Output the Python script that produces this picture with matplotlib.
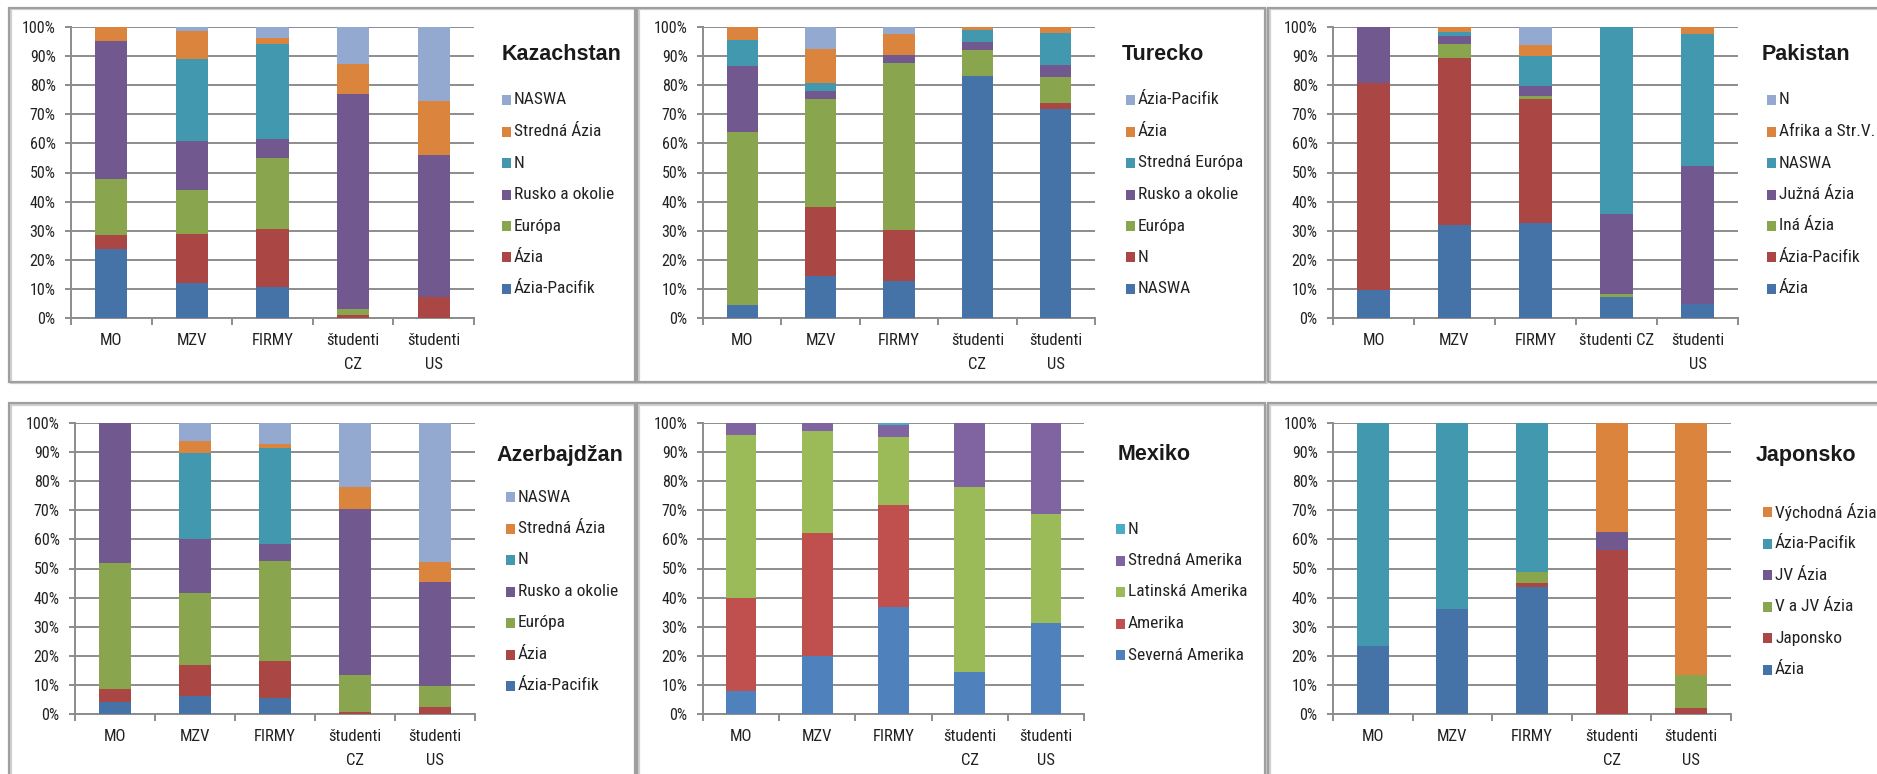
import matplotlib
matplotlib.use("Agg")
import matplotlib.pyplot as plt
import matplotlib.font_manager as fm
from matplotlib.patches import Rectangle
from matplotlib.ticker import FixedLocator, FuncFormatter

# Font (Calibri-like look), first available one
nazvy = {f.name for f in fm.fontManager.ttflist}
pismo = next(n for n in ["Liberation Sans Narrow", "Roboto Condensed", "Open Sans", "DejaVu Sans"] if n in nazvy)
plt.rcParams["font.family"] = [pismo, "DejaVu Sans"]

W, H = 1877, 774

# Data (percent, stacked bottom -> top)
skupiny = ["MO", "MZV", "FIRMY", "študenti\nCZ", "študenti\nUS"]
skupiny_pak = ["MO", "MZV", "FIRMY", "študenti CZ", "študenti\nUS"]

# Kazachstan
kaz_serie = ["Ázia-Pacifik", "Ázia", "Európa", "Rusko a okolie", "N", "Stredná Ázia", "NASWA"]
kaz_azia_pacifik = [23.7, 12.0, 10.7, 0.0, 0.0]
kaz_azia = [4.8, 17.0, 19.9, 1.0, 7.2]
kaz_europa = [19.3, 15.1, 24.4, 2.1, 0.0]
kaz_rusko = [47.3, 16.6, 6.5, 73.9, 48.7]
kaz_n = [0.0, 28.4, 32.7, 0.0, 0.0]
kaz_stredna_azia = [4.9, 9.4, 1.9, 10.3, 18.6]
kaz_naswa = [0.0, 1.5, 3.9, 12.7, 25.5]

# Turecko
tur_serie = ["NASWA", "N", "Európa", "Rusko a okolie", "Stredná Európa", "Ázia", "Ázia-Pacifik"]
tur_naswa = [4.5, 14.6, 12.6, 83.0, 71.7]
tur_n = [0.0, 23.5, 17.8, 0.0, 2.3]
tur_europa = [59.4, 37.0, 57.4, 9.0, 8.8]
tur_rusko = [22.6, 2.9, 2.5, 2.8, 4.2]
tur_stredna_europa = [8.9, 2.8, 0.0, 4.1, 10.9]
tur_azia = [4.6, 11.7, 7.4, 1.1, 2.1]
tur_azia_pacifik = [0.0, 7.5, 2.3, 0.0, 0.0]

# Pakistan
pak_serie = ["Ázia", "Ázia-Pacifik", "Iná Ázia", "Južná Ázia", "NASWA", "Afrika a Str.V.", "N"]
pak_azia = [9.6, 31.9, 32.7, 7.3, 4.8]
pak_azia_pacifik = [71.1, 57.3, 42.6, 0.0, 0.0]
pak_ina_azia = [0.0, 4.8, 1.0, 1.1, 0.0]
pak_juzna_azia = [19.3, 2.9, 3.5, 27.4, 47.4]
pak_naswa = [0.0, 1.4, 10.1, 64.2, 45.3]
pak_afrika = [0.0, 1.7, 3.8, 0.0, 2.5]
pak_n = [0.0, 0.0, 6.3, 0.0, 0.0]

# Azerbajdzan
aze_serie = ["Ázia-Pacifik", "Ázia", "Európa", "Rusko a okolie", "N", "Stredná Ázia", "NASWA"]
aze_azia_pacifik = [4.2, 6.2, 5.4, 0.0, 0.0]
aze_azia = [4.5, 10.8, 12.8, 0.8, 2.4]
aze_europa = [43.2, 24.6, 34.3, 12.6, 7.2]
aze_rusko = [48.1, 18.5, 6.0, 56.9, 35.6]
aze_n = [0.0, 29.6, 33.0, 0.0, 0.0]
aze_stredna_azia = [0.0, 4.1, 1.2, 7.7, 6.9]
aze_naswa = [0.0, 6.2, 7.3, 22.0, 47.9]

# Mexiko
mex_serie = ["Severná Amerika", "Amerika", "Latinská Amerika", "Stredná Amerika", "N"]
mex_severna = [8.0, 19.8, 36.9, 14.3, 31.4]
mex_amerika = [32.0, 42.3, 34.9, 0.0, 0.0]
mex_latinska = [56.0, 35.0, 23.4, 63.6, 37.5]
mex_stredna = [4.0, 2.9, 4.2, 22.1, 31.1]
mex_n = [0.0, 0.0, 0.6, 0.0, 0.0]

# Japonsko
jap_serie = ["Ázia", "Japonsko", "V a JV Ázia", "JV Ázia", "Ázia-Pacifik", "Východná Ázia"]
jap_azia = [23.5, 36.2, 43.7, 0.0, 0.0]
jap_japonsko = [0.0, 0.0, 1.3, 56.3, 2.1]
jap_v_jv_azia = [0.0, 0.0, 3.9, 0.0, 11.3]
jap_jv_azia = [0.0, 0.0, 0.0, 6.2, 0.0]
jap_azia_pacifik = [76.5, 63.8, 51.1, 0.0, 0.0]
jap_vychodna = [0.0, 0.0, 0.0, 37.5, 86.6]

# Farby
f07 = ["#4572A7", "#AA4643", "#89A54E", "#71588F", "#4198AF", "#DB843D", "#93A9CF"]
f10 = ["#4F81BD", "#C0504D", "#9BBB59", "#8064A2", "#4BACC6"]

panely = [
    dict(nazov="Kazachstan", kat=skupiny, serie=kaz_serie, farby=f07,
         data=[kaz_azia_pacifik, kaz_azia, kaz_europa, kaz_rusko, kaz_n, kaz_stredna_azia, kaz_naswa],
         box=(9, 8, 635, 382), osi=(71, 27, 474, 318), tit=(502, 55), leg=(502, 100)),
    dict(nazov="Turecko", kat=skupiny, serie=tur_serie, farby=f07,
         data=[tur_naswa, tur_n, tur_europa, tur_rusko, tur_stredna_europa, tur_azia, tur_azia_pacifik],
         box=(637, 8, 1265, 382), osi=(703, 27, 1095, 318), tit=(1122, 55), leg=(1126, 100)),
    dict(nazov="Pakistan", kat=skupiny_pak, serie=pak_serie, farby=f07,
         data=[pak_azia, pak_azia_pacifik, pak_ina_azia, pak_juzna_azia, pak_naswa, pak_afrika, pak_n],
         box=(1268, 8, 1890, 382), osi=(1333, 27, 1738, 318), tit=(1762, 55), leg=(1767, 100)),
    dict(nazov="Azerbajdžan", kat=skupiny, serie=aze_serie, farby=f07,
         data=[aze_azia_pacifik, aze_azia, aze_europa, aze_rusko, aze_n, aze_stredna_azia, aze_naswa],
         box=(9, 403, 635, 790), osi=(75, 423, 475, 714), tit=(496, 455), leg=(506, 497)),
    dict(nazov="Mexiko", kat=skupiny, serie=mex_serie, farby=f10,
         data=[mex_severna, mex_amerika, mex_latinska, mex_stredna, mex_n],
         box=(637, 403, 1265, 790), osi=(703, 423, 1084, 714), tit=(1118, 455), leg=(1116, 529)),
    dict(nazov="Japonsko", kat=skupiny, serie=jap_serie, farby=f07[:6],
         data=[jap_azia, jap_japonsko, jap_v_jv_azia, jap_jv_azia, jap_azia_pacifik, jap_vychodna],
         box=(1268, 403, 1890, 790), osi=(1333, 423, 1731, 714), tit=(1756, 455), leg=(1763, 512)),
]

fig = plt.figure(figsize=(W / 100, H / 100), dpi=100)
fig.patch.set_facecolor("white")

siva = "#8c8c8c"

for p in panely:
    # ramik panelu (s jemnym tienom)
    bx0, by0, bx1, by1 = p["box"]
    fig.patches.append(Rectangle(((bx0 + 1.5) / W, 1 - (by1 + 1.5) / H), (bx1 - bx0) / W, (by1 - by0) / H,
                                 transform=fig.transFigure, fill=False,
                                 edgecolor="#d0d0d0", linewidth=1.6))
    fig.patches.append(Rectangle((bx0 / W, 1 - by1 / H), (bx1 - bx0) / W, (by1 - by0) / H,
                                 transform=fig.transFigure, fill=False,
                                 edgecolor="#9f9f9f", linewidth=1.6))

    x0, y0, x1, y1 = p["osi"]
    ax = fig.add_axes([x0 / W, 1 - y1 / H, (x1 - x0) / W, (y1 - y0) / H])
    pozicie = list(range(len(p["kat"])))
    spodok = [0.0] * len(pozicie)
    for hodnoty, farba in zip(p["data"], p["farby"]):
        ax.bar(pozicie, hodnoty, bottom=spodok, width=0.4, color=farba, edgecolor="none", zorder=3)
        spodok = [a + b for a, b in zip(spodok, hodnoty)]

    ax.set_xlim(-0.5, len(pozicie) - 0.5)
    ax.set_ylim(0, 100)
    ax.set_yticks(range(0, 101, 10))
    ax.yaxis.set_major_formatter(FuncFormatter(lambda v, _: "%d%%" % v))
    ax.grid(axis="y", color=siva, linewidth=1.4, zorder=0)
    ax.set_axisbelow(True)
    for s in ["top", "right"]:
        ax.spines[s].set_visible(False)
    for s in ["left", "bottom"]:
        ax.spines[s].set_color(siva)
        ax.spines[s].set_linewidth(1.4)
    ax.set_xticks(pozicie)
    ax.set_xticklabels(p["kat"], fontsize=12, linespacing=1.75, color="#222222")
    ax.xaxis.set_minor_locator(FixedLocator([i - 0.5 for i in range(len(pozicie) + 1)]))
    ax.tick_params(axis="x", which="major", length=0, pad=11)
    ax.tick_params(axis="x", which="minor", length=5, width=1.4, color=siva)
    ax.tick_params(axis="y", length=4, width=1.4, color=siva, labelsize=11.5, pad=7, labelcolor="#222222")
    ax.set_facecolor("none")

    # nadpis
    tx, ty = p["tit"]
    fig.text(tx / W, 1 - ty / H, p["nazov"], fontsize=15.5, fontweight="bold",
             family=["Liberation Sans", "DejaVu Sans"], color="#1a1a1a", va="center", ha="left")

    # legenda (poradie obratene)
    lx, ly = p["leg"]
    for i, (meno, farba) in enumerate(reversed(list(zip(p["serie"], p["farby"])))):
        yy = ly + i * 31.5
        fig.patches.append(Rectangle((lx / W, 1 - (yy + 5) / H), 9 / W, 10 / H,
                                     transform=fig.transFigure, facecolor=farba, edgecolor="none"))
        fig.text((lx + 12) / W, 1 - yy / H, meno, fontsize=12.5, color="#222222", va="center", ha="left")

fig.savefig("out.png", dpi=100)
